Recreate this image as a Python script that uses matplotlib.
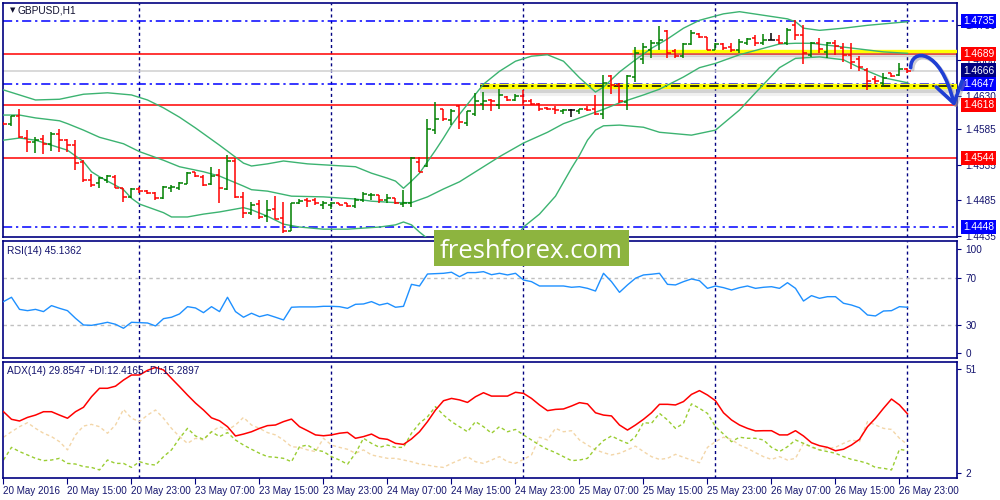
import numpy as np
import matplotlib
matplotlib.use("Agg")
import matplotlib.pyplot as plt
import matplotlib.transforms as mtransforms
from matplotlib.path import Path
from matplotlib.patches import FancyArrowPatch, Rectangle

plt.rcParams['font.family'] = ['Liberation Sans', 'DejaVu Sans']

# hourly GBPUSD bars, 20 May 07:00 .. 27 May 00:00
opens = [1.4594, 1.4591, 1.4602, 1.4572, 1.4566, 1.4570, 1.4563, 1.4578, 1.4569, 1.4562,
         1.4538, 1.4514, 1.4509, 1.4514, 1.4518, 1.4503, 1.4490, 1.4501, 1.4498, 1.4496,
         1.4488, 1.4502, 1.4503, 1.4508, 1.4524, 1.4518, 1.4508, 1.4520, 1.4501, 1.4540,
         1.4490, 1.4468, 1.4480, 1.4463, 1.4473, 1.4461, 1.4443, 1.4482, 1.4486, 1.4486,
         1.4479, 1.4479, 1.4482, 1.4481, 1.4477, 1.4485, 1.4492, 1.4492, 1.4485, 1.4488,
         1.4480, 1.4481, 1.4539, 1.4533, 1.4583, 1.4612, 1.4597, 1.4616, 1.4593, 1.4605,
         1.4620, 1.4625, 1.4618, 1.4629, 1.4625, 1.4631, 1.4624, 1.4619, 1.4614, 1.4613,
         1.4610, 1.4611, 1.4609, 1.4613, 1.4612, 1.4606, 1.4658, 1.4646, 1.4622, 1.4657,
         1.4682, 1.4695, 1.4705, 1.4721, 1.4693, 1.4686, 1.4703, 1.4717, 1.4713, 1.4695,
         1.4703, 1.4699, 1.4694, 1.4705, 1.4712, 1.4704, 1.4709, 1.4708, 1.4704, 1.4729,
         1.4715, 1.4688, 1.4704, 1.4692, 1.4704, 1.4698, 1.4688, 1.4682, 1.4667, 1.4654,
         1.4648, 1.4662, 1.4660, 1.4668]
highs = [1.4595, 1.4603, 1.4612, 1.4583, 1.4574, 1.4576, 1.4580, 1.4585, 1.4571, 1.4569,
         1.4541, 1.4522, 1.4517, 1.4521, 1.4520, 1.4503, 1.4502, 1.4504, 1.4500, 1.4497,
         1.4505, 1.4507, 1.4511, 1.4525, 1.4525, 1.4520, 1.4532, 1.4529, 1.4548, 1.4544,
         1.4497, 1.4483, 1.4486, 1.4486, 1.4491, 1.4483, 1.4482, 1.4487, 1.4488, 1.4489,
         1.4484, 1.4483, 1.4482, 1.4482, 1.4488, 1.4497, 1.4496, 1.4492, 1.4494, 1.4489,
         1.4499, 1.4545, 1.4545, 1.4598, 1.4622, 1.4613, 1.4612, 1.4618, 1.4610, 1.4635,
         1.4636, 1.4626, 1.4640, 1.4631, 1.4634, 1.4639, 1.4627, 1.4621, 1.4615, 1.4616,
         1.4612, 1.4612, 1.4613, 1.4616, 1.4632, 1.4660, 1.4660, 1.4648, 1.4660, 1.4699,
         1.4704, 1.4708, 1.4728, 1.4722, 1.4696, 1.4704, 1.4723, 1.4718, 1.4713, 1.4704,
         1.4704, 1.4704, 1.4710, 1.4712, 1.4715, 1.4717, 1.4718, 1.4715, 1.4725, 1.4736,
         1.4729, 1.4706, 1.4712, 1.4706, 1.4708, 1.4705, 1.4704, 1.4686, 1.4669, 1.4658,
         1.4662, 1.4663, 1.4676, 1.4669]
lows = [1.4590, 1.4589, 1.4572, 1.4553, 1.4551, 1.4550, 1.4554, 1.4553, 1.4553, 1.4527,
        1.4511, 1.4504, 1.4503, 1.4509, 1.4502, 1.4483, 1.4488, 1.4495, 1.4494, 1.4486,
        1.4487, 1.4497, 1.4500, 1.4508, 1.4517, 1.4505, 1.4506, 1.4482, 1.4500, 1.4489,
        1.4460, 1.4465, 1.4459, 1.4455, 1.4459, 1.4440, 1.4442, 1.4480, 1.4476, 1.4479,
        1.4473, 1.4473, 1.4478, 1.4476, 1.4475, 1.4483, 1.4485, 1.4481, 1.4482, 1.4480,
        1.4476, 1.4476, 1.4524, 1.4531, 1.4578, 1.4596, 1.4590, 1.4584, 1.4589, 1.4602,
        1.4611, 1.4609, 1.4613, 1.4623, 1.4623, 1.4618, 1.4618, 1.4609, 1.4611, 1.4605,
        1.4605, 1.4601, 1.4605, 1.4609, 1.4604, 1.4599, 1.4634, 1.4621, 1.4611, 1.4650,
        1.4675, 1.4683, 1.4695, 1.4683, 1.4684, 1.4684, 1.4702, 1.4712, 1.4694, 1.4694,
        1.4695, 1.4692, 1.4691, 1.4702, 1.4700, 1.4702, 1.4708, 1.4703, 1.4702, 1.4709,
        1.4675, 1.4685, 1.4691, 1.4683, 1.4688, 1.4678, 1.4668, 1.4666, 1.4639, 1.4647,
        1.4644, 1.4657, 1.4658, 1.4662]
closes = [1.4591, 1.4602, 1.4573, 1.4567, 1.4569, 1.4564, 1.4578, 1.4569, 1.4562, 1.4537,
          1.4514, 1.4507, 1.4516, 1.4519, 1.4503, 1.4490, 1.4501, 1.4498, 1.4496, 1.4488,
          1.4504, 1.4504, 1.4509, 1.4523, 1.4519, 1.4507, 1.4519, 1.4502, 1.4540, 1.4490,
          1.4468, 1.4479, 1.4462, 1.4472, 1.4459, 1.4442, 1.4482, 1.4484, 1.4484, 1.4481,
          1.4482, 1.4482, 1.4479, 1.4477, 1.4486, 1.4494, 1.4493, 1.4486, 1.4488, 1.4482,
          1.4482, 1.4544, 1.4525, 1.4584, 1.4598, 1.4599, 1.4609, 1.4595, 1.4609, 1.4623,
          1.4624, 1.4623, 1.4632, 1.4625, 1.4631, 1.4623, 1.4619, 1.4613, 1.4612, 1.4611,
          1.4611, 1.4611, 1.4613, 1.4611, 1.4606, 1.4648, 1.4646, 1.4623, 1.4658, 1.4690,
          1.4699, 1.4705, 1.4709, 1.4690, 1.4686, 1.4703, 1.4718, 1.4713, 1.4695, 1.4703,
          1.4697, 1.4695, 1.4706, 1.4710, 1.4704, 1.4709, 1.4709, 1.4705, 1.4723, 1.4715,
          1.4690, 1.4704, 1.4696, 1.4704, 1.4700, 1.4688, 1.4678, 1.4671, 1.4652, 1.4651,
          1.4655, 1.4658, 1.4668, 1.4666]

# Bollinger bands (bar index, price)
bb_up_i = [0, 4, 7, 10, 13, 16, 18, 20, 22, 24, 27, 30, 31, 33, 35, 38, 41, 44, 46, 48,
           49, 50, 51, 52, 53, 54, 55, 56, 57, 58, 60, 62, 64, 66, 68, 70, 72, 74, 75, 77,
           79, 81, 83, 85, 87, 90, 92, 95, 98, 99, 100, 102, 105, 108, 113]
bb_up = [1.4639, 1.4625, 1.4626, 1.4633, 1.4635, 1.4632, 1.4625, 1.4614, 1.4601, 1.4586,
         1.4562, 1.4537, 1.4533, 1.4536, 1.4540, 1.4536, 1.4534, 1.4532, 1.4523, 1.4516,
         1.4512, 1.4502, 1.4512, 1.4523, 1.4539, 1.4555, 1.4572, 1.4590, 1.4605, 1.4619,
         1.4647, 1.4665, 1.4679, 1.4686, 1.4688, 1.4679, 1.4656, 1.4636, 1.4643, 1.4664,
         1.4681, 1.4697, 1.4710, 1.4725, 1.4736, 1.4745, 1.4748, 1.4743, 1.4738, 1.4734,
         1.4725, 1.4722, 1.4725, 1.4729, 1.4734]
bb_mid_i = [0, 2, 4, 7, 8, 10, 12, 15, 17, 20, 22, 25, 27, 30, 31, 33, 36, 40, 44, 46,
            49, 51, 52, 53, 55, 57, 60, 62, 65, 68, 70, 72, 75, 77, 80, 82, 85, 87, 89, 92,
            95, 97, 99, 101, 104, 107, 110, 113]
bb_mid = [1.4604, 1.4604, 1.4600, 1.4596, 1.4592, 1.4583, 1.4573, 1.4564, 1.4553, 1.4541,
          1.4532, 1.4525, 1.4519, 1.4505, 1.4500, 1.4498, 1.4491, 1.4490, 1.4487, 1.4484,
          1.4482, 1.4482, 1.4486, 1.4490, 1.4501, 1.4511, 1.4532, 1.4546, 1.4565, 1.4580,
          1.4592, 1.4600, 1.4612, 1.4621, 1.4632, 1.4640, 1.4657, 1.4670, 1.4676, 1.4688,
          1.4697, 1.4703, 1.4704, 1.4704, 1.4700, 1.4696, 1.4692, 1.4690]
bb_low_i = [0, 2, 4, 6, 8, 10, 11, 12, 15, 16, 17, 20, 21, 23, 25, 27, 30, 31, 33, 35,
            37, 40, 43, 47, 49, 50, 51, 52, 53, 56, 60, 63, 65, 67, 69, 71, 72, 73, 74, 75,
            77, 80, 82, 86, 89, 92, 94, 97, 99, 102, 105, 107, 110, 113]
bb_low = [1.4569, 1.4572, 1.4569, 1.4562, 1.4555, 1.4539, 1.4525, 1.4518, 1.4500, 1.4488,
          1.4480, 1.4468, 1.4462, 1.4462, 1.4466, 1.4469, 1.4475, 1.4472, 1.4463, 1.4452,
          1.4448, 1.4445, 1.4445, 1.4448, 1.4451, 1.4455, 1.4451, 1.4441, 1.4432, 1.4416,
          1.4405, 1.4416, 1.4448, 1.4466, 1.4491, 1.4530, 1.4548, 1.4569, 1.4583, 1.4589,
          1.4590, 1.4587, 1.4580, 1.4576, 1.4583, 1.4611, 1.4635, 1.4670, 1.4683, 1.4685,
          1.4681, 1.4670, 1.4656, 1.4649]

rsi = [49.9, 53.6, 43.3, 42.2, 43.3, 41.4, 46.5, 44.2, 42.2, 35.7,
       30.0, 29.7, 30.9, 32.3, 30.6, 27.2, 32.3, 32.0, 31.7, 29.2,
       35.4, 36.6, 39.4, 45.6, 44.5, 40.5, 45.6, 41.4, 53.6, 41.4,
       36.6, 40.0, 37.1, 38.8, 36.6, 34.3, 45.1, 45.4, 45.4, 45.4,
       45.9, 45.9, 45.6, 44.2, 47.6, 47.9, 49.9, 47.0, 48.5, 45.1,
       45.9, 64.6, 63.2, 73.4, 73.7, 74.0, 74.9, 71.1, 74.6, 74.6,
       75.4, 72.8, 74.0, 72.6, 74.0, 68.3, 66.9, 63.2, 63.2, 63.2,
       63.2, 62.1, 62.6, 61.2, 58.9, 74.0, 66.9, 57.8, 64.1, 69.8,
       72.6, 73.2, 74.0, 64.6, 64.1, 66.9, 69.2, 67.7, 61.2, 63.2,
       61.8, 59.8, 61.8, 63.2, 61.2, 62.1, 62.6, 61.2, 66.0, 61.2,
       50.4, 55.0, 52.7, 54.1, 54.1, 48.5, 47.0, 44.7, 38.5, 37.7,
       41.9, 42.2, 45.6, 45.1]

adx = [30.9, 27.3, 26.5, 28.2, 29.3, 30.9, 30.9, 29.3, 27.8, 30.9,
       33.0, 38.0, 42.0, 42.0, 43.0, 45.9, 48.3, 48.3, 50.5, 51.9,
       50.7, 46.7, 42.8, 38.8, 35.0, 31.7, 28.0, 26.6, 23.8, 19.4,
       20.3, 21.4, 23.0, 24.3, 24.6, 26.2, 27.4, 23.8, 21.9, 19.9,
       19.5, 19.9, 20.7, 21.1, 18.3, 19.1, 20.3, 18.3, 17.8, 15.9,
       15.4, 18.0, 21.4, 26.2, 31.7, 36.1, 37.2, 36.5, 35.3, 38.0,
       39.9, 38.3, 38.3, 38.3, 40.1, 39.6, 37.2, 34.1, 31.4, 32.0,
       32.2, 33.6, 35.2, 34.6, 30.4, 29.3, 28.9, 24.6, 22.2, 24.6,
       27.3, 30.4, 34.4, 34.4, 34.1, 35.7, 39.1, 40.9, 38.8, 36.1,
       30.4, 27.0, 24.6, 23.0, 21.8, 21.9, 21.9, 19.9, 19.9, 21.9,
       19.4, 16.2, 14.8, 14.0, 12.4, 13.1, 15.1, 17.8, 23.8, 27.8,
       32.5, 36.9, 34.1, 29.9]
plus_di = [8.0, 14.0, 12.0, 10.4, 8.8, 7.7, 8.0, 8.8, 6.4, 6.1,
           4.9, 4.5, 3.3, 8.0, 6.4, 6.4, 4.5, 7.2, 6.1, 5.6,
           9.6, 12.8, 18.3, 23.0, 19.4, 17.8, 21.4, 19.1, 21.0, 17.5,
           15.1, 13.1, 11.2, 9.6, 9.3, 8.8, 7.2, 14.3, 15.1, 12.8,
           12.0, 9.6, 8.0, 6.0, 11.2, 18.3, 15.9, 14.0, 15.1, 14.0,
           14.0, 20.7, 25.4, 28.5, 33.3, 29.3, 26.2, 23.8, 21.4, 26.2,
           23.8, 20.7, 23.8, 21.4, 22.5, 19.9, 17.5, 15.1, 13.1, 11.5,
           9.6, 7.7, 8.0, 8.8, 13.5, 17.2, 19.4, 17.5, 15.9, 19.1,
           25.7, 25.4, 30.1, 27.0, 23.0, 25.4, 34.6, 32.5, 30.1, 23.8,
           20.3, 16.7, 18.8, 18.3, 18.3, 17.5, 14.0, 12.0, 14.3, 17.5,
           15.9, 14.3, 12.8, 12.0, 11.2, 9.6, 8.3, 7.5, 6.4, 4.5,
           4.1, 3.3, 13.1, 12.4]
minus_di = [18.8, 21.4, 23.8, 25.7, 23.0, 20.7, 19.1, 16.7, 12.8, 19.9,
            24.1, 24.9, 23.8, 20.7, 24.6, 32.0, 27.8, 26.2, 29.3, 31.7,
            27.8, 23.0, 19.1, 15.9, 18.3, 17.5, 21.4, 23.8, 22.2, 24.6,
            28.2, 24.6, 23.0, 21.0, 19.9, 17.5, 14.3, 14.0, 12.8, 12.0,
            18.3, 15.1, 14.0, 13.1, 11.2, 12.8, 10.4, 9.6, 8.8, 8.8,
            8.0, 7.2, 6.1, 5.6, 4.9, 4.5, 6.4, 8.0, 9.6, 7.2,
            6.4, 8.0, 9.6, 7.2, 6.4, 8.3, 10.4, 18.8, 17.5, 23.0,
            21.4, 21.9, 17.5, 15.1, 12.8, 11.5, 10.4, 11.2, 12.8, 14.6,
            12.0, 9.6, 8.3, 8.8, 10.7, 9.3, 8.0, 6.7, 14.0, 16.7,
            18.8, 17.8, 15.1, 13.5, 11.5, 9.6, 8.3, 9.6, 8.0, 8.8,
            15.9, 14.0, 12.8, 13.5, 14.0, 15.9, 17.5, 16.7, 26.2, 24.6,
            23.0, 22.5, 18.3, 15.3]

# horizontal levels drawn on the chart
levels = [1.4735, 1.4689, 1.4666, 1.4647, 1.4618, 1.4544, 1.4448]
level_kind = ['blue', 'red', 'bid', 'blue', 'red', 'red', 'blue']
zones = [1.4693, 1.4645]
zone_start = [78.6, 59.6]
day_sep = [17, 41, 65, 89, 113]
time_labels = ['20 May 2016', '20 May 15:00', '20 May 23:00', '23 May 07:00', '23 May 15:00',
               '23 May 23:00', '24 May 07:00', '24 May 15:00', '24 May 23:00', '25 May 07:00',
               '25 May 15:00', '25 May 23:00', '26 May 07:00', '26 May 15:00', '26 May 23:00']
price_ticks = [1.4730, 1.4680, 1.4630, 1.4585, 1.4535, 1.4485, 1.4435]

NAVY = '#000080'
TXT = '#14146e'
n = len(closes)
x = np.arange(n)
XMIN, XMAX = -0.125, 119.19

fig = plt.figure(figsize=(10, 5), dpi=100)
ax = fig.add_axes([0.0025, 0.526, 0.9545, 0.468])
ax_rsi = fig.add_axes([0.0025, 0.284, 0.9545, 0.234])
ax_adx = fig.add_axes([0.0025, 0.044, 0.9545, 0.232])

for a in (ax, ax_rsi, ax_adx):
    a.set_xlim(XMIN, XMAX)
    for s in a.spines.values():
        s.set_color(NAVY)
        s.set_linewidth(1.2)
    a.yaxis.tick_right()
    a.tick_params(axis='y', direction='out', length=3, pad=3, color=NAVY,
                  labelsize=7.2, labelcolor=TXT)
    a.tick_params(axis='x', bottom=False, labelbottom=False)
    for d in day_sep:
        a.axvline(d, color=NAVY, lw=1, dashes=(2.2, 2.2), zorder=1)

# ---- main price panel
ax.set_ylim(1.44341, 1.47601)
ax.set_yticks(price_ticks)
ax.set_yticklabels(['%.4f' % p for p in price_ticks])

lvl_style = {'blue': dict(color='#0000ff', lw=1.1, dashes=(6, 2.5, 1.5, 2.5)),
             'red': dict(color='#ff0000', lw=1.1),
             'bid': dict(color='#d0d0d0', lw=1.1)}
lvl_bg = {'blue': '#0000ff', 'red': '#ff0000', 'bid': '#000080'}
for p, k in zip(levels, level_kind):
    ax.axhline(p, zorder=2, **lvl_style[k])

sh1 = mtransforms.offset_copy(ax.transData, fig=fig, x=0, y=-4, units='dots')
sh2 = mtransforms.offset_copy(ax.transData, fig=fig, x=0, y=-7, units='dots')
for p, x0, w in zip(zones, zone_start, [2.4, 3.8]):
    ax.plot([x0, XMAX], [p, p], color='#8a8a8a', lw=w + 0.6, alpha=0.28, transform=sh1,
            solid_capstyle='butt', zorder=2)
    ax.plot([x0, XMAX], [p, p], color='#8a8a8a', lw=w + 0.6, alpha=0.12, transform=sh2,
            solid_capstyle='butt', zorder=2)
    ax.plot([x0, XMAX], [p, p], color='#ffff00', lw=w, solid_capstyle='butt', zorder=3)
ax.plot([zone_start[1], XMAX], [zones[1], zones[1]], color='black', lw=1.1,
        dashes=(6, 2.5, 1.5, 2.5), zorder=3)

bb_col = '#3cb371'
ax.plot(bb_up_i, bb_up, color=bb_col, lw=1, zorder=4)
ax.plot(bb_mid_i, bb_mid, color=bb_col, lw=1, zorder=4)
ax.plot(bb_low_i, bb_low, color=bb_col, lw=1, zorder=4)

o = np.array(opens)
c = np.array(closes)
cols = np.where(c > o, '#008000', np.where(c < o, '#ff0000', '#000000'))
ax.vlines(x, lows, highs, colors=cols, lw=1.1, zorder=5)
ax.hlines(opens, x - 0.42, x, colors=cols, lw=1.1, zorder=5)
ax.hlines(closes, x, x + 0.42, colors=cols, lw=1.1, zorder=5)

lab_tr = mtransforms.blended_transform_factory(ax.transAxes, ax.transData)
for p, k in zip(levels, level_kind):
    ax.text(1.0062, p, '%.4f' % p, transform=lab_tr, ha='left', va='center',
            fontsize=7.4, color='white', clip_on=False, zorder=20,
            bbox=dict(boxstyle='square,pad=0.22', fc=lvl_bg[k], ec='none'))

# hand drawn forecast arrow
verts = [(n - 0.6, closes[-1] + 0.0004), (n - 0.6, 1.4697), (n + 3.1, 1.4699),
         (n + 4.9, levels[4] - 0.0002)]
codes = [Path.MOVETO, Path.CURVE4, Path.CURVE4, Path.CURVE4]
head = '->,head_length=0.9,head_width=0.6'
shadow_tr = mtransforms.offset_copy(ax.transData, fig=fig, x=2, y=-2, units='dots')
arr_sh = FancyArrowPatch(path=Path(verts, codes), arrowstyle=head,
                         mutation_scale=16, lw=2.6, color='#9090a0', alpha=0.45,
                         clip_on=False, zorder=21)
ax.add_patch(arr_sh)
arr_sh.set_transform(shadow_tr)
arr = FancyArrowPatch(path=Path(verts, codes), arrowstyle=head,
                      mutation_scale=16, lw=2.6, color='#1f3fd4', clip_on=False, zorder=22)
ax.add_patch(arr)

# ---- RSI panel
ax_rsi.set_ylim(1.9, 101.5)
ax_rsi.set_yticks([94.7, 70, 30, 6.2])
ax_rsi.set_yticklabels(['100', '70', '30', '0'])
for lv in (70, 30):
    ax_rsi.axhline(lv, color='#c0c0c0', lw=1, dashes=(2.5, 2.5), zorder=1)
ax_rsi.plot(x, rsi, color='#1e90ff', lw=1, zorder=3)

# ---- ADX panel
ax_adx.set_ylim(-0.52, 54.46)
ax_adx.set_yticks([51, 2])
ax_adx.set_yticklabels(['51', '2'])
ax_adx.plot(x, minus_di, color='#f3d6a8', lw=1, dashes=(2.5, 2), zorder=2)
ax_adx.plot(x, plus_di, color='#9acd32', lw=1, dashes=(2.5, 2), zorder=2)
ax_adx.plot(x, adx, color='#ff0000', lw=1.1, zorder=3)
ax_adx.set_xticks(np.arange(0, n - 1, 8))
ax_adx.set_xticklabels(time_labels, ha='left')
ax_adx.tick_params(axis='x', bottom=True, labelbottom=True, direction='out', length=4,
                   pad=2, color=NAVY, labelsize=7.1, labelcolor=TXT)

# ---- captions
fig.text(0.0095, 1 - 10.5 / 500, '\u25bc', fontsize=5, color='#101030', va='center',
         family=['DejaVu Sans'])
fig.text(0.018, 1 - 10.5 / 500, 'GBPUSD,H1', fontsize=7.3, color='#101030', va='center')
fig.text(0.007, 1 - 251.5 / 500, 'RSI(14) 45.1362', fontsize=7.3, color=TXT, va='center')
fig.text(0.007, 1 - 371.5 / 500, 'ADX(14) 29.8547 +DI:12.4165 -DI:15.2897', fontsize=7.3,
         color=TXT, va='center')

# watermark
fig.add_artist(Rectangle((0.434, 1 - 266 / 500), 0.195, 36 / 500, transform=fig.transFigure,
                         fc='#8db43f', ec='none', zorder=30))
fig.text(0.5315, 1 - 258 / 500, 'freshforex.com', fontsize=18.5, color='white',
         ha='center', va='baseline', family=['Open Sans', 'DejaVu Sans'], zorder=31)

fig.savefig('out.png', dpi=100)
